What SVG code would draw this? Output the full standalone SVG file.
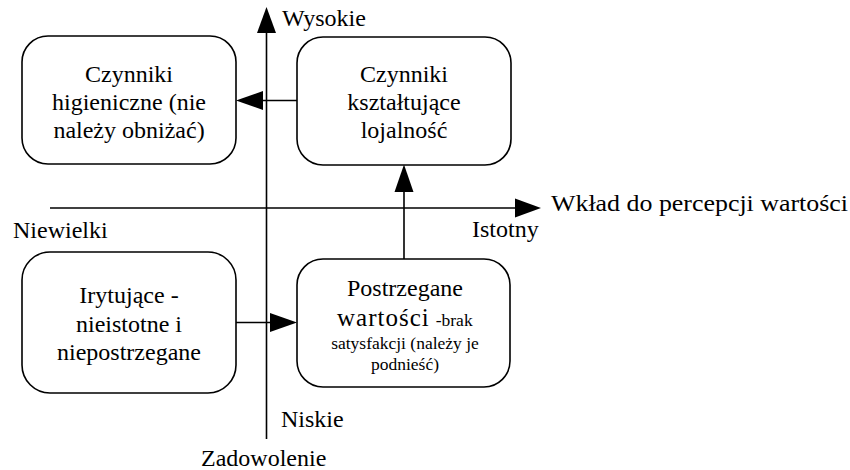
<svg xmlns="http://www.w3.org/2000/svg" width="850" height="470" viewBox="0 0 850 470" font-family="Liberation Serif, Times New Roman, serif" font-size="24">
<style>
.box{fill:#fff;stroke:#000;stroke-width:1.6}
.ln{stroke:#000;stroke-width:1.6;fill:none}
.ah{fill:#000;stroke:none}
.c{text-anchor:middle}
.s{font-size:17.5px}
</style>
<rect width="850" height="470" fill="#fff"/>
<g id="axes">
  <line class="ln" x1="266.5" y1="30" x2="266.5" y2="439"/>
  <polygon class="ah" points="266.5,7 257,33 276,33"/>
  <line class="ln" x1="50" y1="208" x2="518" y2="208"/>
  <polygon class="ah" points="541,208 515,198.5 515,217.5"/>
  <text x="282" y="26">Wysokie</text>
  <text x="551" y="211" textLength="297" lengthAdjust="spacingAndGlyphs">Wkład do percepcji wartości</text>
  <text x="13" y="238">Niewielki</text>
  <text x="472" y="237">Istotny</text>
  <text x="281" y="427">Niskie</text>
  <text x="201" y="466">Zadowolenie</text>
</g>
<g id="connectors">
  <line class="ln" x1="297" y1="100.5" x2="260" y2="100.5"/>
  <polygon class="ah" points="236,100.5 263,91 263,110"/>
  <line class="ln" x1="404" y1="259" x2="404" y2="188"/>
  <polygon class="ah" points="404,164.5 394.5,192 413.5,192"/>
  <line class="ln" x1="236" y1="322.5" x2="275" y2="322.5"/>
  <polygon class="ah" points="297,322.5 270,313 270,332"/>
</g>
<g id="n1">
  <rect class="box" x="22" y="36" width="214" height="128" rx="26"/>
  <text class="c" x="129" y="82">Czynniki</text>
  <text class="c" x="129" y="110">higieniczne (nie</text>
  <text class="c" x="129" y="138">należy obniżać)</text>
</g>
<g id="n2">
  <rect class="box" x="297" y="37" width="214" height="128" rx="26"/>
  <text class="c" x="404" y="82">Czynniki</text>
  <text class="c" x="404" y="110">kształtujące</text>
  <text class="c" x="404" y="138">lojalność</text>
</g>
<g id="n3">
  <rect class="box" x="22" y="252" width="214" height="141" rx="28"/>
  <text class="c" x="129" y="303">Irytujące -</text>
  <text class="c" x="129" y="332">nieistotne i</text>
  <text class="c" x="129" y="360">niepostrzegane</text>
</g>
<g id="n4">
  <rect class="box" x="297" y="259" width="213" height="128" rx="26"/>
  <text class="c" x="405" y="296">Postrzegane</text>
  <text x="337" y="326"><tspan font-size="25" letter-spacing="1">wartości</tspan><tspan class="s" dx="6">-brak</tspan></text>
  <text class="c s" x="405" y="349">satysfakcji (należy je</text>
  <text class="c s" x="405" y="370">podnieść)</text>
</g>
</svg>
